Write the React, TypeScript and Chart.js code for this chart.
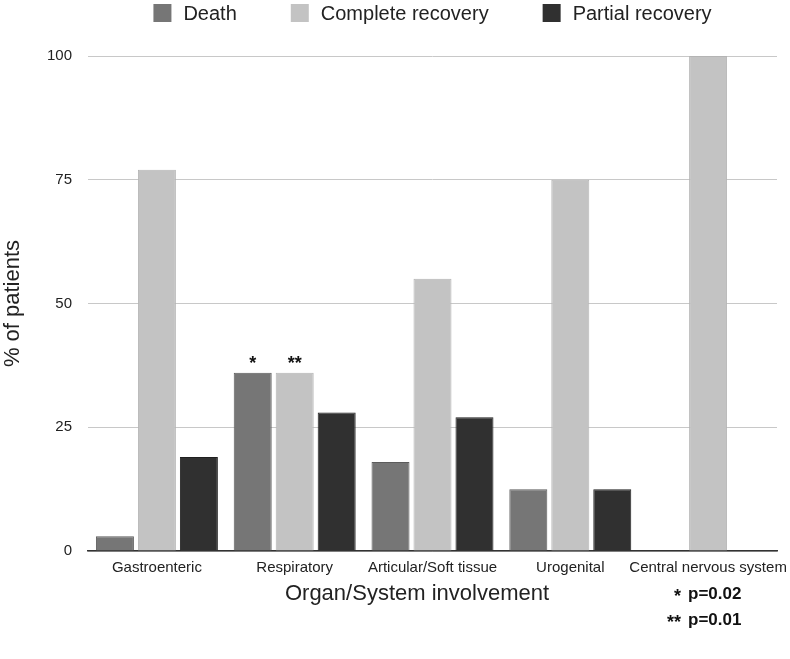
import React, { useEffect, useRef } from "react";
import { Chart, registerables } from "chart.js";

Chart.register(...registerables);

const categories = [
  "Gastroenteric",
  "Respiratory",
  "Articular/Soft tissue",
  "Urogenital",
  "Central nervous system",
];
const seriesNames = ["Death", "Complete recovery", "Partial recovery"];
const death = [3, 36, 18, 12.5, 0];
const completeRecovery = [77, 36, 55, 75, 100];
const partialRecovery = [19, 28, 27, 12.5, 0];
const yTicks = [0, 25, 50, 75, 100];
const significanceMarks = [
  { dataset: 0, index: 1, mark: "*" },
  { dataset: 1, index: 1, mark: "**" },
];
const pNotes = [
  { mark: "*", text: "p=0.02" },
  { mark: "**", text: "p=0.01" },
];
const xTitle = "Organ/System involvement";
const yTitle = "% of patients";

const FONT = "'Liberation Sans', Arial, Helvetica, sans-serif";
const fillColors = ["#767676", "#c3c3c3", "#303030"];
const borderColors = ["#5c5c5c", "#b4b4b4", "#1f1f1f"];

const customPlugin = {
  id: "customDecor",
  afterDraw(chart: any) {
    const ctx = chart.ctx;
    const area = chart.chartArea;
    ctx.save();
    // Legend
    ctx.font = `20px ${FONT}`;
    ctx.textBaseline = "middle";
    const box = 18;
    const gap = 12;
    const spacing = 54;
    const widths = seriesNames.map((n) => box + gap + ctx.measureText(n).width);
    const total = widths.reduce((a, b) => a + b, 0) + spacing * (widths.length - 1);
    let x = (area.left + area.right) / 2 - total / 2;
    const ly = 13;
    seriesNames.forEach((n, i) => {
      ctx.fillStyle = fillColors[i];
      ctx.fillRect(x, ly - box / 2, box, box);
      ctx.fillStyle = "#222";
      ctx.textAlign = "left";
      ctx.fillText(n, x + box + gap, ly + 1);
      x += widths[i] + spacing;
    });

    // Significance marks above bars
    ctx.font = `bold 18px ${FONT}`;
    ctx.textAlign = "center";
    ctx.textBaseline = "alphabetic";
    ctx.fillStyle = "#111";
    significanceMarks.forEach((s) => {
      const el = chart.getDatasetMeta(s.dataset).data[s.index];
      if (el) ctx.fillText(s.mark, el.x, el.y - 4);
    });

    // X title
    ctx.font = `22px ${FONT}`;
    ctx.fillStyle = "#222";
    ctx.textAlign = "center";
    ctx.textBaseline = "middle";
    ctx.fillText(xTitle, 417, 594);

    // p-value notes
    pNotes.forEach((p, i) => {
      const yy = 594 + i * 26;
      ctx.font = `bold 18px ${FONT}`;
      ctx.textAlign = "right";
      ctx.textBaseline = "alphabetic";
      ctx.fillStyle = "#111";
      ctx.fillText(p.mark, 681, yy + 8);
      ctx.font = `bold 17px ${FONT}`;
      ctx.textAlign = "left";
      ctx.textBaseline = "middle";
      ctx.fillText(p.text, 688, yy);
    });
    ctx.restore();
  },
};

export default function App() {
  const ref = useRef<HTMLCanvasElement | null>(null);
  useEffect(() => {
    if (!ref.current) return;
    const chart = new Chart(ref.current, {
      type: "bar",
      data: {
        labels: categories,
        datasets: [death, completeRecovery, partialRecovery].map((d, i) => ({
          label: seriesNames[i],
          data: d,
          backgroundColor: fillColors[i],
          borderColor: borderColors[i],
          borderWidth: 1,
          categoryPercentage: 0.914,
          barPercentage: 0.905,
        })),
      },
      options: {
        animation: false,
        responsive: true,
        maintainAspectRatio: false,
        layout: { padding: { top: 56, right: 13, bottom: 0, left: 0 } },
        plugins: {
          legend: { display: false },
          tooltip: { enabled: false },
        },
        scales: {
          x: {
            grid: { display: false, drawTicks: false },
            border: { display: true, color: "#333", width: 1.5 },
            ticks: {
              color: "#222",
              font: { family: FONT, size: 15 },
              padding: 8,
              maxRotation: 0,
              autoSkip: false,
            },
            afterFit(scale: any) {
              scale.height = 108;
              scale.paddingLeft = 0;
              scale.paddingRight = 0;
            },
          },
          y: {
            min: 0,
            max: 100,
            afterBuildTicks(scale: any) {
              scale.ticks = yTicks.map((v) => ({ value: v }));
            },
            grid: { color: "#c8c8c8", lineWidth: 1, drawTicks: false },
            border: { display: false },
            ticks: {
              color: "#222",
              font: { family: FONT, size: 15 },
              padding: 16,
            },
            title: {
              display: true,
              text: yTitle,
              color: "#222",
              font: { family: FONT, size: 22 },
              padding: 0,
            },
            afterFit(scale: any) {
              scale.width = 88;
            },
          },
        },
      },
      plugins: [customPlugin],
    });
    return () => chart.destroy();
  }, []);
  return (
    <div style={{ position: "absolute", left: 0, top: 0, width: 790, height: 659, background: "#fff" }}>
      <canvas ref={ref} />
    </div>
  );
}
